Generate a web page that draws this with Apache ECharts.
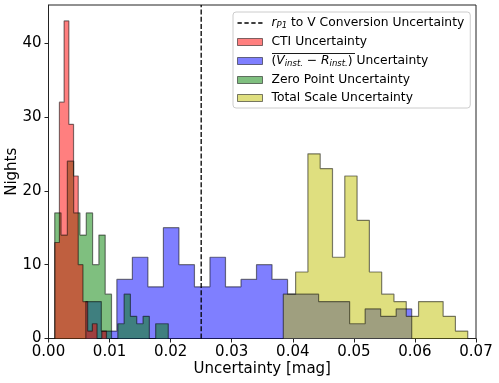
<!DOCTYPE html>
<html lang="en">
<head>
    <meta charset="UTF-8">
    <title>Uncertainty histograms</title>
    <script src="https://cdn.jsdelivr.net/npm/echarts@6/dist/echarts.min.js"></script>
    <style>
        html, body { margin: 0; padding: 0; background: #fff; }
        #main { width: 499px; height: 383px; }
    </style>
</head>
<body>
<div id="main"></div>
<script>
    // bin start, bin width and counts of each histogram
    var ctiStart = 0.00102, ctiWidth = 0.00077;
    var ctiCounts = [13, 32, 43, 29, 22, 10, 5, 1, 2, 0, 1];

    var vrStart = 0.00611, vrWidth = 0.002541;
    var vrCounts = [5, 1, 8, 11, 7, 15, 10, 7, 11, 7, 8, 10, 8, 6, 6, 5, 5, 2, 4, 3, 4];

    var zpStart = 0.00102, zpWidth = 0.001033;
    var zpCounts = [17, 14, 24, 17, 14, 17, 10, 14, 6, 0, 2, 6, 3, 2, 3, 0, 2, 2];

    var totStart = 0.03845, totWidth = 0.002013;
    var totCounts = [6, 9, 25, 23, 11, 22, 16, 9, 6, 5, 3, 5, 5, 3, 1];

    var convValue = 0.025;

    var xTicks = [0, 0.01, 0.02, 0.03, 0.04, 0.05, 0.06, 0.07];
    var yTicks = [0, 10, 20, 30, 40];
    var yMax = 45.15;

    var font = 'DejaVu Sans';

    // step outline of a histogram: used with step 'end'
    function histPoints(start, width, counts) {
        var pts = [[start, 0]];
        for (var i = 0; i < counts.length; i++) {
            pts.push([start + i * width, counts[i]]);
        }
        pts.push([start + counts.length * width, 0]);
        return pts;
    }

    var edge = 'rgba(0,0,0,0.5)';
    var fills = {
        cti: 'rgba(255,0,0,0.5)',
        vr: 'rgba(0,0,255,0.5)',
        zp: 'rgba(0,128,0,0.5)',
        tot: 'rgba(191,191,0,0.5)'
    };

    function histSeries(name, start, width, counts) {
        return {
            name: name,
            type: 'line',
            step: 'end',
            symbol: 'none',
            silent: true,
            color: fills[name],
            lineStyle: { color: edge, width: 1.2 },
            areaStyle: { color: fills[name], opacity: 1 },
            data: histPoints(start, width, counts)
        };
    }

    var legendText = {
        conv: '{it|r}{sub|P1}{n| to V Conversion Uncertainty}',
        cti: '{n|CTI Uncertainty}',
        vr: '{n|(}{it|V}{sub|inst.}{n| \u2212 }{it|R}{sub|inst.}{n|) Uncertainty}',
        zp: '{n|Zero Point Uncertainty}',
        tot: '{n|Total Scale Uncertainty}'
    };

    function patch(name) {
        return {
            name: name,
            icon: 'rect',
            itemStyle: { color: fills[name], borderColor: edge, borderWidth: 1 }
        };
    }

    var chart = echarts.init(document.getElementById('main'), null, { renderer: 'canvas' });

    var option = {
        animation: false,
        backgroundColor: '#fff',
        textStyle: { fontFamily: font },
        grid: {
            left: 48.5, right: 23, top: 5, bottom: 44.5,
            outerBoundsMode: 'none',
            containLabel: false,
            show: true, borderColor: '#222', borderWidth: 1, backgroundColor: 'transparent'
        },
        legend: {
            orient: 'vertical',
            left: 233, top: 12,
            padding: [4, 6, 4, 4],
            itemGap: 6,
            itemWidth: 25, itemHeight: 7,
            backgroundColor: 'rgba(255,255,255,0.8)',
            borderColor: '#cccccc', borderWidth: 1, borderRadius: 3,
            selectedMode: false,
            data: [
                { name: 'conv', icon: 'path://M0,0h5v2h-5zM8,0h5v2h-5zM16,0h5v2h-5zM24,0h5v2h-5z', itemStyle: { color: '#000', borderWidth: 0 } },
                patch('cti'), patch('vr'), patch('zp'), patch('tot')
            ],
            formatter: function (name) { return legendText[name]; },
            textStyle: {
                fontFamily: font, fontSize: 12.3, color: '#000', padding: [0, 0, 0, 4],
                rich: {
                    n: { fontFamily: font, fontSize: 12.3, color: '#000', lineHeight: 14 },
                    it: { fontFamily: font, fontSize: 12.3, fontStyle: 'italic', color: '#000', lineHeight: 14 },
                    sub: { fontFamily: font, fontSize: 8.5, fontStyle: 'italic', color: '#000', lineHeight: 14, verticalAlign: 'bottom', padding: [5, 0, 0, 0] }
                }
            }
        },
        // overline above (V_inst. - R_inst.) in the legend
        graphic: [{
            type: 'line',
            silent: true,
            z: 100,
            shape: { x1: 272, y1: 53.5, x2: 355, y2: 53.5 },
            style: { stroke: '#000', lineWidth: 0.9 }
        }],
        xAxis: {
            type: 'value',
            min: 0, max: 0.07,
            name: 'Uncertainty [mag]',
            nameLocation: 'middle',
            nameGap: 23.5,
            nameMoveOverlap: false,
            nameTextStyle: { fontFamily: font, fontSize: 15, color: '#000' },
            splitLine: { show: false },
            axisLine: { onZero: false, lineStyle: { color: '#222', width: 1 } },
            axisTick: { inside: false, length: 4, lineStyle: { color: '#222' }, customValues: xTicks },
            axisLabel: {
                fontFamily: font, fontSize: 15, color: '#000', margin: 6,
                customValues: xTicks,
                formatter: function (v) { return v.toFixed(2); }
            }
        },
        yAxis: {
            type: 'value',
            min: 0, max: yMax,
            name: 'Nights',
            nameLocation: 'middle',
            nameGap: 28.5,
            nameMoveOverlap: false,
            nameTextStyle: { fontFamily: font, fontSize: 15, color: '#000' },
            splitLine: { show: false },
            axisLine: { show: true, lineStyle: { color: '#222', width: 1 } },
            axisTick: { show: true, inside: false, length: 4, lineStyle: { color: '#222' }, customValues: yTicks },
            axisLabel: { fontFamily: font, fontSize: 15, color: '#000', margin: 7, customValues: yTicks }
        },
        series: [
            histSeries('vr', vrStart, vrWidth, vrCounts),
            histSeries('zp', zpStart, zpWidth, zpCounts),
            histSeries('cti', ctiStart, ctiWidth, ctiCounts),
            histSeries('tot', totStart, totWidth, totCounts),
            {
                name: 'conv',
                type: 'line',
                symbol: 'none',
                silent: true,
                color: '#000',
                lineStyle: { color: '#000', width: 1.3, type: [5, 2.2] },
                data: [[convValue, 0], [convValue, yMax]],
                z: 5
            }
        ]
    };

    chart.setOption(option);
</script>
</body>
</html>
